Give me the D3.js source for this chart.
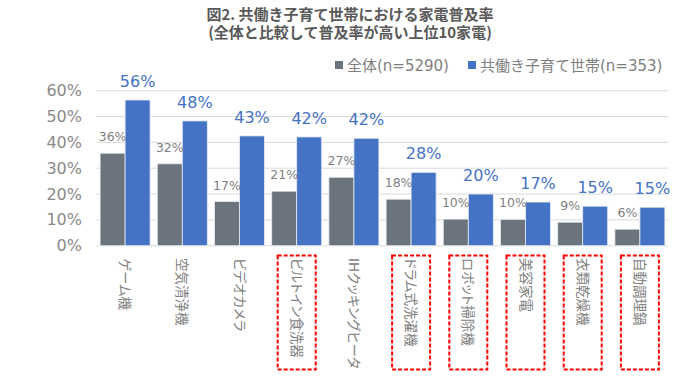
<!DOCTYPE html>
<html><head><meta charset="utf-8">
<script src="https://cdn.jsdelivr.net/npm/d3@7"></script>
<style>body{margin:0;background:#fff}svg{display:block}</style>
</head><body>
<svg id="c" width="700" height="381"></svg>
<script>
const categories = ["ゲーム機","空気清浄機","ビデオカメラ","ビルトイン食洗器","IHクッキングヒータ","ドラム式洗濯機","ロボット掃除機","美容家電","衣類乾燥機","自動調理鍋"];
const allValues = [0.358,0.317,0.171,0.211,0.265,0.180,0.103,0.102,0.091,0.064];
const dualValues = [0.564,0.483,0.425,0.421,0.416,0.284,0.200,0.169,0.153,0.149];
const allLabels = ["36%","32%","17%","21%","27%","18%","10%","10%","9%","6%"];
const dualLabels = ["56%","48%","43%","42%","42%","28%","20%","17%","15%","15%"];
const seriesNames = ["全体(n=5290)","共働き子育て世帯(n=353)"];
const highlighted = ["ビルトイン食洗器","ドラム式洗濯機","ロボット掃除機","美容家電","衣類乾燥機","自動調理鍋"];
const yTicks = [0,0.1,0.2,0.3,0.4,0.5,0.6];
const titleLines = ["図2. 共働き子育て世帯における家電普及率","(全体と比較して普及率が高い上位10家電)"];

const colors = ["#6b747c","#4472c4"];
const font = "'DejaVu Sans','Noto Sans CJK JP',sans-serif";
const jfont = "'Noto Sans CJK JP',sans-serif";
const svg = d3.select("#c");

const x = d3.scaleBand().domain(categories).range([96.5,668.5]).paddingInner(0.126).paddingOuter(0.063);
const x1 = d3.scaleBand().domain([0,1]).range([0,x.bandwidth()]);
const y = d3.scaleLinear().domain([0,0.6]).range([245.7,90.7]);

// gridlines
svg.append("g").selectAll("line").data(yTicks).join("line")
  .attr("x1",96.5).attr("x2",668.5)
  .attr("y1",d=>y(d)).attr("y2",d=>y(d))
  .attr("stroke","#d9d9d9").attr("stroke-width",1);

// y axis labels
const yAxis = d3.axisLeft(y).tickValues(yTicks).tickFormat(d3.format(".0%")).tickSize(0).tickPadding(0);
const ga = svg.append("g").attr("transform","translate(82,0)").call(yAxis);
ga.select(".domain").remove();
ga.selectAll("text").attr("font-family",font).attr("font-size",16).attr("fill","#8a8a8a");

// bars
const series = [allValues, dualValues];
series.forEach((vals,si)=>{
  svg.append("g").selectAll("rect").data(vals).join("rect")
    .attr("x",(d,i)=>x(categories[i])+x1(si))
    .attr("width",x1.bandwidth())
    .attr("y",d=>y(d)).attr("height",d=>y(0)-y(d))
    .attr("fill",colors[si]).attr("stroke","#e8ecf4").attr("stroke-width",0.8);
});

// value labels
svg.append("g").selectAll("text").data(allValues).join("text")
  .attr("x",(d,i)=>x(categories[i])+x1(0)+x1.bandwidth()/2)
  .attr("y",d=>y(d)-12)
  .attr("text-anchor","middle").attr("font-family",font).attr("font-size",12.5)
  .attr("fill","#7f7f7f").text((d,i)=>allLabels[i]);
svg.append("g").selectAll("text").data(dualValues).join("text")
  .attr("x",(d,i)=>x(categories[i])+x1(1)+x1.bandwidth()/2)
  .attr("y",d=>y(d)-13)
  .attr("text-anchor","middle").attr("font-family",font).attr("font-size",16)
  .attr("fill","#4472c4").text((d,i)=>dualLabels[i]);

// category labels
svg.append("g").selectAll("text").data(categories).join("text")
  .attr("transform",d=>`translate(${x(d)+x.bandwidth()/2},258) rotate(90)`)
  .attr("dominant-baseline","central")
  .style("font-feature-settings","'palt' 1")
  .attr("font-family",font).attr("font-size",13.5).attr("fill","#808080").text(d=>d);

// highlight boxes
svg.append("g").selectAll("rect").data(highlighted).join("rect")
  .attr("x",d=>x(d)+x.bandwidth()/2-19).attr("y",255.5)
  .attr("width",38).attr("height",114)
  .attr("fill","none").attr("stroke","#ff0000").attr("stroke-width",2).attr("stroke-dasharray","4,2");

// title
svg.append("g").selectAll("text").data(titleLines).join("text")
  .attr("x",350).attr("y",(d,i)=>20+i*18)
  .attr("text-anchor","middle").attr("font-family",jfont).attr("font-weight","bold")
  .attr("font-size",15).attr("fill","#595959").text(d=>d);

// legend
const lg = svg.append("g");
const lx = [335,468];
seriesNames.forEach((n,i)=>{
  lg.append("rect").attr("x",lx[i]).attr("y",61).attr("width",8).attr("height",8).attr("fill",colors[i]);
  lg.append("text").attr("x",lx[i]+12).attr("y",70.5)
    .attr("font-family",font).attr("font-size",15).attr("fill","#7f7f7f").text(n);
});
</script>
</body></html>
